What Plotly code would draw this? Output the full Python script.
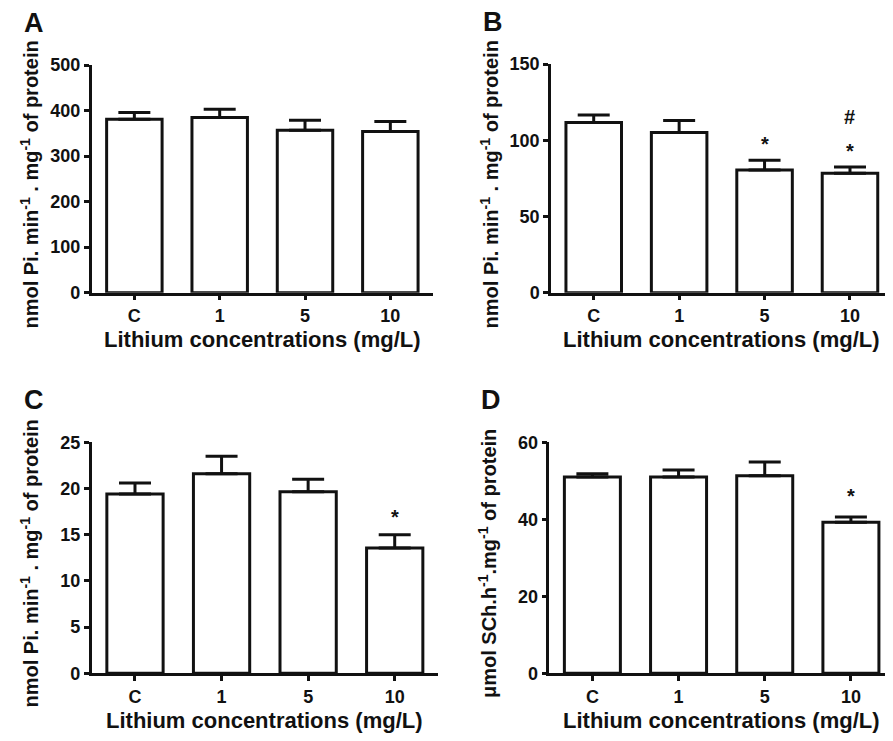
import plotly.graph_objects as go

# ---------------- data ----------------
categories = ["C", "1", "5", "10"]

a_means = [381, 385, 357, 354]
a_sem = [15, 18, 22, 22]

b_means = [111.7, 105.1, 80.5, 78.4]
b_sem = [4.8, 7.9, 6.4, 4.1]

c_means = [19.4, 21.6, 19.65, 13.55]
c_sem = [1.2, 1.9, 1.35, 1.45]

d_means = [51.0, 51.0, 51.3, 39.2]
d_sem = [0.8, 1.8, 3.6, 1.4]

a_ticks = [0, 100, 200, 300, 400, 500]
b_ticks = [0, 50, 100, 150]
c_ticks = [0, 5, 10, 15, 20, 25]
d_ticks = [0, 20, 40, 60]

b_star = ["", "", "*", "*"]
b_hash = ["", "", "", "#"]
c_star = ["", "", "", "*"]
d_star = ["", "", "", "*"]

panel_letters = ["A", "B", "C", "D"]
x_title = "Lithium concentrations (mg/L)"
y_titles = [
    "nmol Pi. min<sup>-1</sup> . mg<sup>-1</sup> of protein",
    "nmol Pi. min<sup>-1</sup> . mg<sup>-1</sup> of protein",
    "nmol Pi. min<sup>-1</sup> . mg<sup>-1</sup> of protein",
    "μmol SCh.h<sup>-1</sup>.mg<sup>-1</sup> of protein",
]

# ---------------- layout helpers ----------------
W, H = 893, 741
FONT = "Liberation Sans, Arial, Helvetica, sans-serif"
BLACK = "#111111"

# empirical mapping between the target screen pixels and paper coordinates
X_OFF, Y_OFF, Y_SPAN = 7.0, 19.0, 720.0


def px_x(v):
    return (v - X_OFF) / W


def px_y(v):
    return 1 - (v - Y_OFF) / Y_SPAN


# pixel boxes (left, right, top, bottom) of each plot area on screen
boxes = [
    (90.7, 432.0, 66.0, 293.3),
    (550.0, 891.7, 65.0, 293.3),
    (90.7, 437.0, 442.7, 673.3),
    (548.3, 893.0, 442.7, 673.3),
]

panels = [
    (a_means, a_sem, a_ticks),
    (b_means, b_sem, b_ticks),
    (c_means, c_sem, c_ticks),
    (d_means, d_sem, d_ticks),
]

fig = go.Figure()
layout_axes = {}
annotations = []

for i, ((means, sem, ticks), box) in enumerate(zip(panels, boxes)):
    n = "" if i == 0 else str(i + 1)
    xa, ya = "x" + n, "y" + n
    fig.add_trace(
        go.Bar(
            x=categories,
            y=means,
            xaxis=xa,
            yaxis=ya,
            width=0.65,
            marker=dict(color="white", line=dict(color=BLACK, width=3)),
            error_y=dict(
                type="data",
                symmetric=False,
                array=sem,
                arrayminus=[0] * len(sem),
                color=BLACK,
                thickness=3,
                width=16,
            ),
            showlegend=False,
            hoverinfo="x+y",
        )
    )
    left, right, top, bottom = box
    common = dict(
        showline=True,
        linecolor=BLACK,
        linewidth=2.5,
        ticks="outside",
        ticklen=5,
        tickwidth=2.5,
        tickcolor=BLACK,
        showgrid=False,
        zeroline=False,
        tickfont=dict(family=FONT, size=18, color=BLACK, weight="bold"),
    )
    layout_axes["xaxis" + n] = dict(
        common,
        domain=[max(px_x(left), 0.0), min(px_x(right), 1.0)],
        anchor=ya,
        type="category",
        range=[-0.5, 3.5],
        categoryorder="array",
        categoryarray=categories,
    )
    layout_axes["yaxis" + n] = dict(
        common,
        domain=[px_y(bottom), px_y(top)],
        anchor=xa,
        range=[0, ticks[-1]],
        tickmode="array",
        tickvals=ticks,
        ticktext=[str(t) for t in ticks],
    )

    cx = (left + right) / 2
    # x-axis title
    annotations.append(
        dict(
            text=x_title,
            xref="paper",
            yref="paper",
            x=px_x(cx),
            y=px_y(bottom + 47),
            xanchor="center",
            yanchor="middle",
            showarrow=False,
            font=dict(family=FONT, size=22, color=BLACK, weight="bold"),
        )
    )
    # y-axis title
    annotations.append(
        dict(
            text=y_titles[i],
            xref="paper",
            yref="paper",
            x=px_x(left - 62),
            y=px_y((top + bottom) / 2 + 6),
            xanchor="center",
            yanchor="middle",
            textangle=-90,
            showarrow=False,
            font=dict(family=FONT, size=20, color=BLACK, weight="bold"),
        )
    )
    # panel letter
    annotations.append(
        dict(
            text=panel_letters[i],
            xref="paper",
            yref="paper",
            x=px_x(left - 58),
            y=px_y(top - 42),
            xanchor="center",
            yanchor="middle",
            showarrow=False,
            font=dict(family=FONT, size=27, color=BLACK, weight="bold"),
        )
    )


def add_marks(marks, means, sem, n, shift):
    for idx, (m, e, s) in enumerate(zip(means, sem, marks)):
        if s:
            annotations.append(
                dict(
                    text=s,
                    xref="x" + n,
                    yref="y" + n,
                    x=idx,
                    y=m + e,
                    xanchor="center",
                    yanchor="middle",
                    yshift=shift,
                    showarrow=False,
                    font=dict(family=FONT, size=20, color=BLACK, weight="bold"),
                )
            )


add_marks(b_star, b_means, b_sem, "2", 16)
add_marks(b_hash, b_means, b_sem, "2", 50)
add_marks(c_star, c_means, c_sem, "3", 18)
add_marks(d_star, d_means, d_sem, "4", 21)

fig.update_layout(
    width=W,
    height=H,
    margin=dict(l=0, r=0, t=0, b=0),
    paper_bgcolor="white",
    plot_bgcolor="white",
    annotations=annotations,
    font=dict(family=FONT, color=BLACK),
    **layout_axes,
)

fig.write_html("out.html")
